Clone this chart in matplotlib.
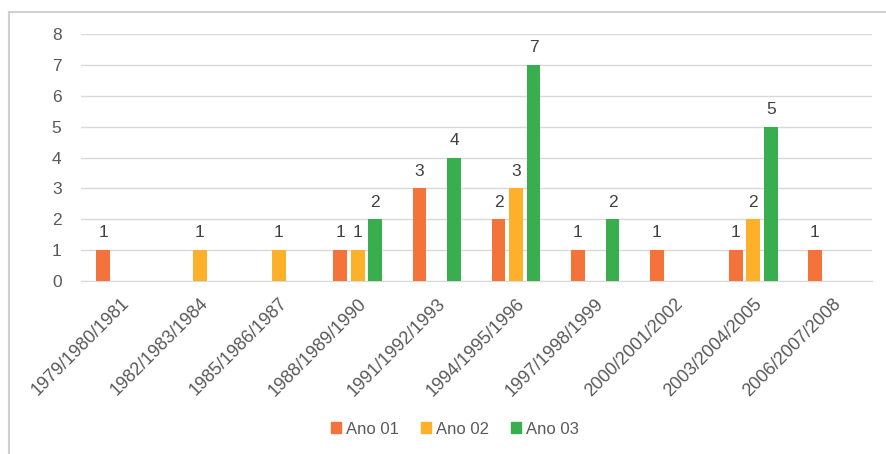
import numpy as np
import matplotlib
matplotlib.use('Agg')
import matplotlib.pyplot as plt
from matplotlib.lines import Line2D

# chart data
categories = ['1979/1980/1981', '1982/1983/1984', '1985/1986/1987', '1988/1989/1990',
              '1991/1992/1993', '1994/1995/1996', '1997/1998/1999', '2000/2001/2002',
              '2003/2004/2005', '2006/2007/2008']
ano01 = [1, 0, 0, 1, 3, 2, 1, 1, 1, 1]
ano02 = [0, 1, 1, 1, 0, 3, 0, 0, 2, 0]
ano03 = [0, 0, 0, 2, 4, 7, 2, 0, 5, 0]
series_names = ['Ano 01', 'Ano 02', 'Ano 03']
colors = ['#F4733A', '#FDB12A', '#39AE4F']

plt.rcParams['font.family'] = ['Liberation Sans', 'DejaVu Sans']
text_color = '#595959'
grid_color = '#D9D9D9'

fig = plt.figure(figsize=(8.87, 4.54), dpi=100)
ax = fig.add_axes([0.0913, 0.381, 0.8917, 0.544])

x = np.arange(len(categories))
width = 0.175
offsets = [-0.221, 0.0, 0.221]

for vals, off, col, name in zip([ano01, ano02, ano03], offsets, colors, series_names):
    vals = np.array(vals, dtype=float)
    mask = vals > 0
    ax.bar(x[mask] + off, vals[mask], width=width, color=col, label=name, zorder=3)
    for xi, v in zip(x[mask] + off, vals[mask]):
        ax.annotate('{:d}'.format(int(v)), (xi, v), xytext=(0, 7), textcoords='offset points',
                    ha='center', va='bottom', fontsize=12.5, color='#404040')

ax.set_xlim(-0.5, len(categories) - 0.5)
ax.set_ylim(0, 8)
ax.set_yticks(range(0, 9))
ax.yaxis.grid(True, color=grid_color, linewidth=1)
ax.set_axisbelow(True)
for s in ['top', 'right', 'left']:
    ax.spines[s].set_visible(False)
ax.spines['bottom'].set_color(grid_color)
ax.tick_params(axis='both', length=0, labelsize=12.5, colors=text_color)
ax.tick_params(axis='y', pad=14)
ax.tick_params(axis='x', pad=10, labelsize=13)
ax.set_xticks(x)
ax.set_xticklabels(categories, rotation=45, ha='right', rotation_mode='anchor')

handles = [plt.Rectangle((0, 0), 1, 1, color=c) for c in colors]
fig.legend(handles, series_names, loc='center', bbox_to_anchor=(0.513, 0.055), ncol=3,
           frameon=False, fontsize=12, labelcolor=text_color, handlelength=0.6,
           handleheight=0.6, handletextpad=0.3, columnspacing=1.3)

# outer chart frame (only left and top edges visible in the crop)
fig.add_artist(Line2D([9 / 887, 9 / 887], [0, 1 - 12 / 454], transform=fig.transFigure,
                      color='#D0D0D0', linewidth=1.5))
fig.add_artist(Line2D([9 / 887, 1], [1 - 12 / 454, 1 - 12 / 454], transform=fig.transFigure,
                      color='#D0D0D0', linewidth=1.5))

fig.savefig('out.png', dpi=100)
